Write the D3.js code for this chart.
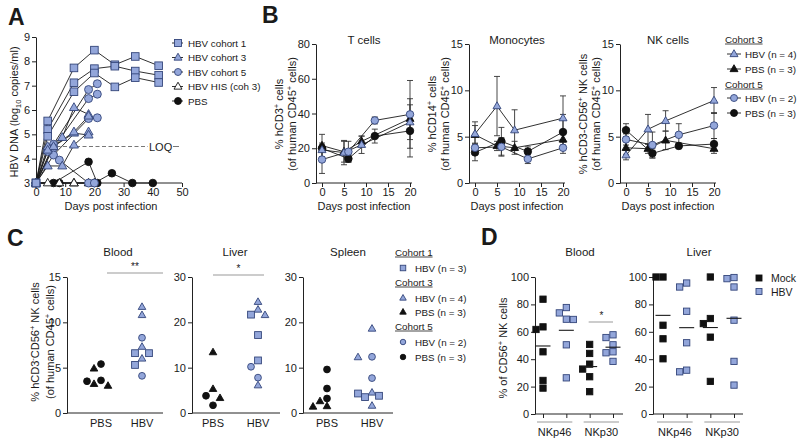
<!DOCTYPE html>
<html><head><meta charset="utf-8">
<script src="https://cdn.jsdelivr.net/npm/d3@7"></script>
<style>
body{margin:0;background:#fff}
svg{display:block}
text{font-family:"Liberation Sans",Arial,Helvetica,sans-serif;fill:#1a1a1a}
</style>
</head><body>
<svg id="c" width="800" height="443"></svg>
<script>
// ================= DATA =================
// Panel A: HBV DNA (log10 copies/ml) per mouse, [day, value]
const aCohort1 = [
  [[0,3],[4,5.55],[13,7.73],[20,8.46],[27,7.86],[34,8.2],[42,7.82]],
  [[0,3],[4,5.2],[13,7.12],[20,7.7],[27,7.8],[34,7.6],[42,7.43]],
  [[0,3],[4,4.92],[13,6.75],[20,7.52],[27,6.95],[34,7.33],[42,7.13]]
];
const aCohort3 = [
  [[0,3],[4,4.5],[9,4.87],[13,6.1],[18,5.82]],
  [[0,3],[4,3.7],[9,3.7],[13,4.56],[18,5.1]],
  [[0,3],[6,4.5],[13,5.05],[18,4.97]],
  [[0,3],[4,4.35],[13,5.1],[18,5.75]]
];
const aCohort5 = [
  [[0,3],[6,4.59],[18,6.84],[21,7.08]],
  [[0,3],[6,4.45],[18,6.47],[21,6.65]],
  [[0,3],[6,4.15],[18,5.65],[21,5.68]],
  [[0,3],[4,4.3],[8,3.94],[18,3],[20,3]]
];
const aHIS = [
  [[0,3],[4,3],[13,3],[18,3]],
  [[0,3],[8,3],[13,3],[20,3]]
];
const aPBS = [
  [[0,3],[6,3],[18,3.87],[21,3]],
  [[0,3],[8,3],[20,3],[26,3.4],[33,3],[40,3]]
];
const aXTicks = [0,10,20,30,40,50];
const aYTicks = [3,4,5,6,7,8,9];
const aLOQ = 4.5;
const aLegendLabels = ["HBV cohort 1","HBV cohort 3","HBV cohort 5","HBV HIS (coh 3)","PBS"];

// Panel B: mean and error per time point
const bDaysC3 = [0,5,9,20];
const bDaysC5 = [0,6,12,20];
const bXTicks = [0,5,10,15,20];
// T cells
const tHBV3 = [19,17.5,22,35],   tHBV3err = [4,7,5,10];
const tPBS3 = [21.5,18,24,37],   tPBS3err = [6.5,6,3,22];
const tHBV5 = [13.5,18,36,39.5], tHBV5err = [8,6,2,9];
const tPBS5 = [20,14,27,30],     tPBS5err = [2,2,4,10];
// Monocytes
const mHBV3 = [5.3,8.3,5.7,7.0], mHBV3err = [1.3,3.2,2.2,2.4];
const mPBS3 = [5.2,4.0,3.8,4.7], mPBS3err = [1.0,0.5,0.7,0.6];
const mHBV5 = [3.8,3.9,2.6,3.8], mHBV5err = [0.5,1.0,0.5,0.6];
const mPBS5 = [3.3,4.5,3.4,5.5], mPBS5err = [0.9,1.5,0.5,1.9];
// NK cells
const nHBV3 = [3.0,5.8,6.7,8.9], nHBV3err = [0.5,1.6,1.1,1.4];
const nPBS3 = [3.8,3.7,4.6,3.7], nPBS3err = [0.7,0.5,1.0,0.5];
const nHBV5 = [4.7,4.1,5.2,6.2], nHBV5err = [0.6,1.4,1.2,1.4];
const nPBS5 = [5.7,3.2,4.0,4.2], nPBS5err = [0.7,0.5,0.3,0.6];
const bLegend = [["Cohort 3",null],["HBV (n = 4)","tb"],["PBS (n = 3)","tk"],["Cohort 5",null],["HBV (n = 2)","cb"],["PBS (n = 3)","ck"]];

// Panel C: % NK cells per mouse
const cCats = ["PBS","HBV"];
const cBloodPBS3 = [4.9,3.0,3.2], cBloodPBS5 = [5.4,3.5,3.6];
const cBloodHBV1 = [6.6,6.6,5.3], cBloodHBV3 = [11.7,10.8,7.3,6.0], cBloodHBV5 = [8.3,4.1];
const cLiverPBS3 = [13.4,5.3,3.3], cLiverPBS5 = [3.8,1.7];
const cLiverHBV1 = [21.7,17.2,11.6], cLiverHBV3 = [24.5,22.8,21.6,6.1], cLiverHBV5 = [10.2,7.8];
const cSpleenPBS3 = [2.6,1.4,1.5], cSpleenPBS5 = [9.6,5.4,3.2];
const cSpleenHBV1 = [3.8,3.5,4.3], cSpleenHBV3 = [18.6,12.3,4.5,1.6], cSpleenHBV5 = [12.4,7.7];
const cLegend = [["Cohort 1",null],["HBV (n = 3)","sb"],["Cohort 3",null],["HBV (n = 4)","tb"],["PBS (n = 3)","tk"],["Cohort 5",null],["HBV (n = 2)","cb"],["PBS (n = 3)","ck"]];

// Panel D: % of CD56+ NK cells
const dGroups = ["NKp46","NKp30"];
const dBloodMock46 = [83.8,63.6,61.7,45.4,24.5,18.9];
const dBloodHBV46  = [77.7,73.8,69.0,69.2,50.5,26.4];
const dBloodMock30 = [50.8,44.2,36.4,32.8,27.2,16.3];
const dBloodHBV30  = [57.8,55.8,50.5,45.4,44.7,38.4];
const dLiverMock46 = [100,100,64.8,54.9,40.3];
const dLiverHBV46  = [95.6,92.7,75.0,52.0,30.8,32.0];
const dLiverMock30 = [100,69.7,66.0,56.1,23.8];
const dLiverHBV30  = [98.8,99.6,92.7,68.5,38.4,21.1];
const dYTicks = [0,20,40,60,80,100];

// ================= DRAWING =================
const BLUE = "#93a6da", BLUES = "#33457a", BLACK = "#111", AX = "#222";
const svg = d3.select("#c");

function marker(g, type, x, y, s, fill, stroke) {
  let el;
  if (type === "square") {
    el = g.append("rect").attr("x", x - s/2).attr("y", y - s/2).attr("width", s).attr("height", s);
  } else if (type === "triangle") {
    const h = s * Math.sqrt(3) / 2;
    el = g.append("path").attr("d", `M${x},${y - h*0.62}L${x + s/2},${y + h*0.38}L${x - s/2},${y + h*0.38}Z`);
  } else {
    el = g.append("circle").attr("cx", x).attr("cy", y).attr("r", s/2);
  }
  el.attr("fill", fill).attr("stroke", stroke).attr("stroke-width", 0.9);
  return el;
}

function rich(parent, x, y, parts, size, anchor) {
  const t = parent.append("text").attr("x", x).attr("y", y).attr("font-size", size)
    .attr("text-anchor", anchor || "start");
  let shift = 0;
  parts.forEach(p => {
    const [s, mode] = Array.isArray(p) ? p : [p, null];
    const target = mode === "sup" ? -size*0.38 : mode === "sub" ? size*0.28 : 0;
    const ts = t.append("tspan").text(s).attr("dy", target - shift);
    if (mode) ts.attr("font-size", size*0.68);
    shift = target;
  });
  return t;
}
function vlabel(cx, cy, parts, size) {
  const g = svg.append("g").attr("transform", `translate(${cx + size*0.36},${cy}) rotate(-90)`);
  rich(g, 0, 0, parts, size, "middle");
}
function txt(x, y, s, size, anchor, weight) {
  return svg.append("text").attr("x", x).attr("y", y).attr("font-size", size)
    .attr("text-anchor", anchor || "start").attr("font-weight", weight || "normal").text(s);
}
function hline(x1, x2, y, color, w, dash) {
  const l = svg.append("line").attr("x1", x1).attr("x2", x2).attr("y1", y).attr("y2", y)
    .attr("stroke", color || AX).attr("stroke-width", w || 1);
  if (dash) l.attr("stroke-dasharray", dash);
  return l;
}
function yAxis(x, scale, ticks) {
  const g = svg.append("g").attr("transform", `translate(${x},0)`)
    .call(d3.axisLeft(scale).tickValues(ticks).tickFormat(d3.format("d")).tickSize(4).tickSizeOuter(0).tickPadding(2));
  g.select(".domain").attr("stroke", AX);
  g.selectAll(".tick line").attr("stroke", AX);
  g.selectAll("text").attr("font-size", 11).attr("fill", "#1a1a1a").attr("font-family", null);
  return g;
}
function xAxis(y, scale, ticks, x1, x2, showLabels) {
  const g = svg.append("g").attr("transform", `translate(0,${y})`)
    .call(d3.axisBottom(scale).tickValues(ticks).tickSize(4).tickSizeOuter(0).tickPadding(1));
  g.select(".domain").remove();
  g.selectAll(".tick line").attr("stroke", AX);
  g.selectAll("text").attr("font-size", 11).attr("fill", "#1a1a1a").attr("font-family", null);
  if (showLabels === false) g.selectAll("text").remove();
  hline(x1, x2, y);
  return g;
}

// ---------- Panel A ----------
txt(8, 25, "A", 23, "start", "bold");
const xA = d3.scaleLinear().domain([0,50]).range([36,182]);
const yA = d3.scaleLinear().domain([3,9]).range([183,37]);
yAxis(36, yA, aYTicks);
xAxis(183, xA, aXTicks, 36, 182);
txt(111, 210, "Days post infection", 11, "middle");
vlabel(14, 112, ["HBV DNA (log", ["10","sub"], " copies/ml)"], 11);
// LOQ
hline(37, 148, yA(aLOQ), "#777", 1, "4,2.5");
txt(149, yA(aLOQ) + 4, "LOQ", 11, "start").attr("fill", "#444");
hline(173, 179, yA(aLOQ), "#777", 1);

const lineA = d3.line().x(d => xA(d[0])).y(d => yA(d[1]));
const gA = svg.append("g");
const aSets = [
  [aPBS, "circle", BLACK, BLACK, 7.6],
  [aHIS, "triangle", "#fff", BLACK, 8.6],
  [aCohort5, "circle", BLUE, BLUES, 8],
  [aCohort3, "triangle", BLUE, BLUES, 9],
  [aCohort1, "square", BLUE, BLUES, 7.6]
];
aSets.forEach(([set]) => set.forEach(m =>
  gA.append("path").attr("d", lineA(m)).attr("fill", "none").attr("stroke", "#1a1a1a").attr("stroke-width", 0.9)));
aSets.forEach(([set, type, fill, stroke, s]) => set.forEach(m =>
  m.forEach(d => marker(gA, type, xA(d[0]), yA(d[1]), s, fill, stroke))));
// legend A
const aLegTypes = [["square",BLUE,BLUES],["triangle",BLUE,BLUES],["circle",BLUE,BLUES],["triangle","#fff",BLACK],["circle",BLACK,BLACK]];
aLegendLabels.forEach((lab, i) => {
  const y = 43 + i*14.5;
  hline(172, 183, y, "#1a1a1a", 0.9);
  marker(svg, aLegTypes[i][0], 178, y, i === 1 || i === 3 ? 8 : 7, aLegTypes[i][1], aLegTypes[i][2]);
  txt(188, y + 3.5, lab, 9.8);
});

// ---------- Panel B ----------
txt(262, 23, "B", 23, "start", "bold");
function drawB(cfg) {
  const xs = d3.scaleLinear().domain([0,20]).range([cfg.x0 + 6, cfg.x0 + 94]);
  const ys = d3.scaleLinear().domain(cfg.ydom).range([183,44]);
  yAxis(cfg.x0, ys, cfg.yticks);
  xAxis(183, xs, bXTicks, cfg.x0, cfg.x0 + 96);
  txt(cfg.x0 + 48, 44, cfg.title, 11.5, "middle");
  txt(cfg.x0 + 48, 210, "Days post infection", 11, "middle");
  vlabel(cfg.x0 - 37, 114, cfg.lab1, 11);
  vlabel(cfg.x0 - 24, 114, cfg.lab2, 11);
  const g = svg.append("g");
  const ser = cfg.series;
  ser.forEach(s => s.vals.forEach((v, i) => {
    const x = xs(s.days[i]), y1 = ys(v - s.err[i]), y2 = ys(v + s.err[i]);
    g.append("line").attr("x1", x).attr("x2", x).attr("y1", y1).attr("y2", y2).attr("stroke", "#333").attr("stroke-width", 0.9);
    [y1, y2].forEach(yy => g.append("line").attr("x1", x - 3).attr("x2", x + 3).attr("y1", yy).attr("y2", yy).attr("stroke", "#333").attr("stroke-width", 0.9));
  }));
  ser.forEach(s => g.append("path").attr("d", d3.line().x((d, i) => xs(s.days[i])).y(d => ys(d))(s.vals))
    .attr("fill", "none").attr("stroke", "#1a1a1a").attr("stroke-width", 0.9));
  ser.forEach(s => s.vals.forEach((v, i) => marker(g, s.type, xs(s.days[i]), ys(v), s.type === "triangle" ? 8 : 7.5, s.fill, s.stroke)));
}
function bSeries(h3, h3e, p3, p3e, h5, h5e, p5, p5e) {
  return [
    {days: bDaysC3, vals: p3, err: p3e, type: "triangle", fill: BLACK, stroke: BLACK},
    {days: bDaysC5, vals: p5, err: p5e, type: "circle", fill: BLACK, stroke: BLACK},
    {days: bDaysC3, vals: h3, err: h3e, type: "triangle", fill: BLUE, stroke: BLUES},
    {days: bDaysC5, vals: h5, err: h5e, type: "circle", fill: BLUE, stroke: BLUES}
  ];
}
drawB({x0: 316, ydom: [0,80], yticks: [0,20,40,60,80], title: "T cells",
  lab1: ["% hCD3", ["+","sup"], " cells"], lab2: ["(of human CD45", ["+","sup"], " cells)"],
  series: bSeries(tHBV3, tHBV3err, tPBS3, tPBS3err, tHBV5, tHBV5err, tPBS5, tPBS5err)});
drawB({x0: 469, ydom: [0,15], yticks: [0,5,10,15], title: "Monocytes",
  lab1: ["% hCD14", ["+","sup"], " cells"], lab2: ["(of human CD45", ["+","sup"], " cells)"],
  series: bSeries(mHBV3, mHBV3err, mPBS3, mPBS3err, mHBV5, mHBV5err, mPBS5, mPBS5err)});
drawB({x0: 620, ydom: [0,15], yticks: [0,5,10,15], title: "NK cells",
  lab1: ["% hCD3-CD56", ["+","sup"], " NK cells"], lab2: ["(of human CD45", ["+","sup"], " cells)"],
  series: bSeries(nHBV3, nHBV3err, nPBS3, nPBS3err, nHBV5, nHBV5err, nPBS5, nPBS5err)});
const legSym = {tb: ["triangle", BLUE, BLUES], tk: ["triangle", BLACK, BLACK], cb: ["circle", BLUE, BLUES], ck: ["circle", BLACK, BLACK], sb: ["square", BLUE, BLUES]};
bLegend.forEach(([lab, sym], i) => {
  const y = [39, 54, 69, 84, 98, 113][i];
  if (!sym) {
    const t = txt(725, y + 3.5, lab, 9.8);
    hline(725, 725 + t.node().getComputedTextLength(), y + 5, "#1a1a1a", 0.8);
  } else {
    hline(727, 741, y, "#1a1a1a", 0.9);
    marker(svg, legSym[sym][0], 734, y, sym[0] === "t" ? 8 : 7, legSym[sym][1], legSym[sym][2]);
    txt(745, y + 3.5, lab, 9.8);
  }
});

// ---------- Panel C ----------
txt(7, 246, "C", 23, "start", "bold");
function dodge(pts, ys, cx, step, minD) {
  const order = pts.map((p, i) => i).sort((a, b) => pts[b].v - pts[a].v);
  const placed = [];
  order.forEach(i => {
    const y = ys(pts[i].v);
    for (let k = 0; k < 30; k++) {
      const off = k === 0 ? 0 : (k % 2 ? -1 : 1) * Math.ceil(k/2) * step;
      const x = cx + off;
      if (placed.every(p => Math.hypot(p.x - x, p.y - y) >= minD)) {
        pts[i].x = x; pts[i].y = y; placed.push({x, y}); break;
      }
    }
  });
  return pts;
}
function col(groups) {
  const out = [];
  groups.forEach(([vals, type, fill, stroke]) => vals.forEach(v => out.push({v, type, fill, stroke})));
  return out;
}
function drawC(cfg) {
  const ys = d3.scaleLinear().domain(cfg.ydom).range([413,277]);
  const xs = d3.scalePoint().domain(cCats).range(cfg.cats);
  yAxis(cfg.x0, ys, cfg.yticks);
  hline(cfg.x0, cfg.x1, 413);
  cCats.forEach(c => txt(xs(c), 427, c, 11, "middle"));
  txt(cfg.tx, 256, cfg.title, 11.5, "middle");
  const g = svg.append("g");
  [[cfg.pbs, "PBS"], [cfg.hbv, "HBV"]].forEach(([pts, c]) => {
    dodge(pts, ys, xs(c), 7, 7.4).forEach(p =>
      marker(g, p.type, p.x, p.y, p.type === "triangle" ? 7.6 : 6.8, p.fill, p.stroke));
  });
  if (cfg.sig) {
    hline(cfg.sig[0], cfg.sig[1], cfg.sig[2], "#999", 1);
    txt((cfg.sig[0] + cfg.sig[1]) / 2, cfg.sig[2] - 3, cfg.sig[3], 10, "middle");
  }
}
drawC({x0: 67, x1: 163, cats: [101,142], ydom: [0,15], yticks: [0,5,10,15], title: "Blood", tx: 118,
  pbs: col([[cBloodPBS5, "circle", BLACK, BLACK], [cBloodPBS3, "triangle", BLACK, BLACK]]),
  hbv: col([[cBloodHBV3, "triangle", BLUE, BLUES], [cBloodHBV1, "square", BLUE, BLUES], [cBloodHBV5, "circle", BLUE, BLUES]]),
  sig: [107, 163, 273, "**"]});
drawC({x0: 192, x1: 280, cats: [213,258], ydom: [0,30], yticks: [0,10,20,30], title: "Liver", tx: 235,
  pbs: col([[cLiverPBS3, "triangle", BLACK, BLACK], [cLiverPBS5, "circle", BLACK, BLACK]]),
  hbv: col([[cLiverHBV3, "triangle", BLUE, BLUES], [cLiverHBV1, "square", BLUE, BLUES], [cLiverHBV5, "circle", BLUE, BLUES]]),
  sig: [213, 264, 275, "*"]});
drawC({x0: 303, x1: 393, cats: [327,372], ydom: [0,30], yticks: [0,10,20,30], title: "Spleen", tx: 348,
  pbs: col([[cSpleenPBS5, "circle", BLACK, BLACK], [cSpleenPBS3, "triangle", BLACK, BLACK]]),
  hbv: col([[cSpleenHBV3, "triangle", BLUE, BLUES], [cSpleenHBV1, "square", BLUE, BLUES], [cSpleenHBV5, "circle", BLUE, BLUES]])});
vlabel(35, 342, ["% hCD3", ["-","sup"], "CD56", ["+","sup"], " NK cells"], 11);
vlabel(50, 342, ["(of human CD45", ["+","sup"], " cells)"], 11);
cLegend.forEach(([lab, sym], i) => {
  const y = [252, 268, 282, 298, 312, 326, 342, 357][i];
  if (!sym) {
    const t = txt(395, y + 3.5, lab, 9.8);
    hline(395, 395 + t.node().getComputedTextLength(), y + 5, "#1a1a1a", 0.8);
  } else {
    marker(svg, legSym[sym][0], 403, y, sym[0] === "t" ? 6.5 : 5.5, legSym[sym][1], legSym[sym][2]);
    txt(415, y + 3.5, lab, 9.8);
  }
});

// ---------- Panel D ----------
txt(481, 245, "D", 23, "start", "bold");
function drawD(cfg) {
  const ys = d3.scaleLinear().domain([0,100]).range([414,277]);
  const keys = ["NKp46 Mock","NKp46 HBV","NKp30 Mock","NKp30 HBV"];
  const xs = d3.scalePoint().domain(keys).range(cfg.cats);
  yAxis(cfg.x0, ys, dYTicks);
  xAxis(414, xs, keys, cfg.x0, cfg.x1, false);
  txt((cfg.x0 + cfg.x1) / 2 + 1, 256, cfg.title, 11.5, "middle");
  dGroups.forEach((gname, gi) => {
    const a = xs(keys[gi*2]), b = xs(keys[gi*2 + 1]);
    hline(a - 6, b + 6, 422, "#999", 1);
    txt((a + b) / 2, 436, gname, 11, "middle");
  });
  const g = svg.append("g");
  cfg.data.forEach((vals, i) => {
    const cx = xs(keys[i]);
    const m = d3.mean(vals);
    hline(cx - 7.5, cx + 7.5, ys(m), "#1a1a1a", 1.1);
    const pts = vals.map(v => ({v}));
    const isHBV = i % 2 === 1;
    dodge(pts, ys, cx, 7, 6.8).forEach(p =>
      marker(g, "square", p.x, p.y, 6.3, isHBV ? BLUE : BLACK, isHBV ? BLUES : BLACK));
  });
  if (cfg.sig) {
    hline(xs(keys[2]) - 1, xs(keys[3]), cfg.sig, "#999", 1);
    txt((xs(keys[2]) + xs(keys[3])) / 2, cfg.sig - 3, "*", 10, "middle");
  }
}
drawD({x0: 535, x1: 623, cats: [543,613], title: "Blood",
  data: [dBloodMock46, dBloodHBV46, dBloodMock30, dBloodHBV30], sig: 322});
drawD({x0: 653, x1: 743, cats: [663,734], title: "Liver",
  data: [dLiverMock46, dLiverHBV46, dLiverMock30, dLiverHBV30]});
vlabel(503, 348, ["% of CD56", ["+","sup"], " NK cells"], 11);
[["Mock", BLACK, BLACK], ["HBV", BLUE, BLUES]].forEach(([lab, f, s], i) => {
  const y = 278 + i*13.5;
  marker(svg, "square", 759, y, 6, f, s);
  txt(771, y + 4, lab, 10.5);
});
</script>
</body></html>
